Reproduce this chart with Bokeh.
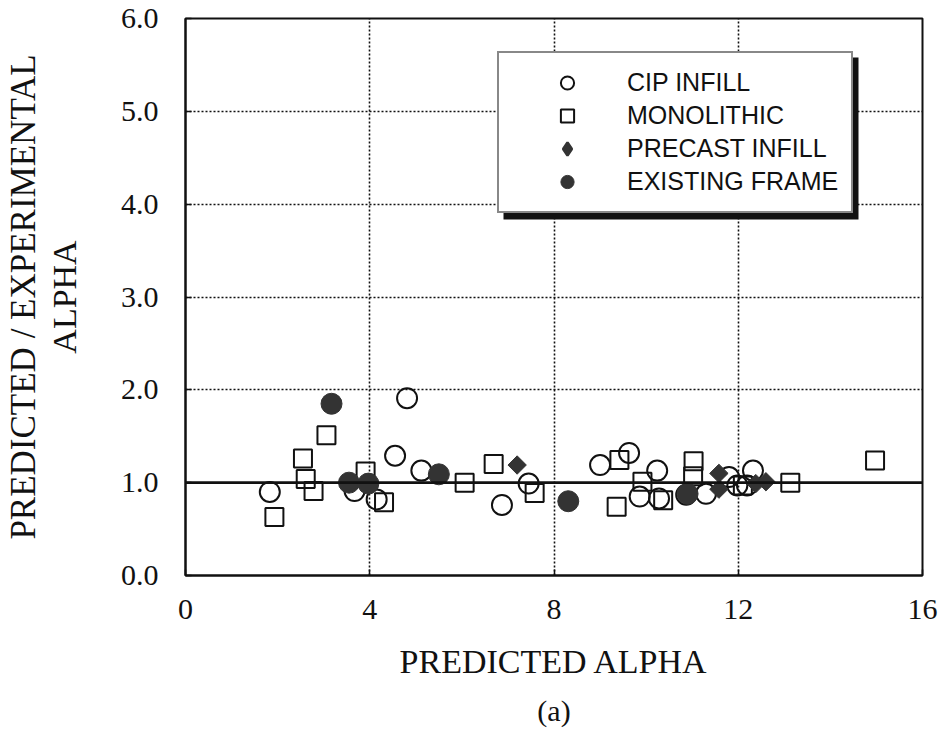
import math
from bokeh.plotting import figure
from bokeh.models import (FixedTicker, Span, Legend, LegendItem, BoxAnnotation, Title)
from bokeh.embed import file_html
from bokeh.resources import INLINE

# ---------------- data ----------------
cip_x = [1.83, 3.67, 4.15, 4.55, 4.81, 5.12, 6.87, 7.45, 9.00, 9.63, 9.86,
         10.24, 10.28, 10.87, 11.30, 11.80, 11.98, 12.19, 12.32]
cip_y = [0.90, 0.91, 0.82, 1.29, 1.91, 1.13, 0.76, 0.99, 1.19, 1.32, 0.85,
         1.13, 0.83, 0.87, 0.88, 1.06, 0.97, 0.97, 1.13]

mono_x = [1.93, 2.55, 2.61, 2.78, 3.06, 3.91, 4.31, 6.06, 6.69, 7.58, 9.36,
          9.42, 9.92, 10.37, 11.03, 11.02, 12.10, 13.13, 14.97]
mono_y = [0.63, 1.26, 1.04, 0.91, 1.51, 1.12, 0.79, 1.00, 1.20, 0.89, 0.74,
          1.245, 1.01, 0.81, 1.23, 1.07, 0.97, 1.00, 1.24]

pre_x = [7.20, 11.58, 11.58, 12.38, 12.60]
pre_y = [1.19, 1.10, 0.93, 0.99, 1.01]

exist_x = [3.17, 3.55, 3.97, 5.50, 8.31, 10.90]
exist_y = [1.85, 1.00, 0.99, 1.09, 0.80, 0.88]

x_ticks = [0, 4, 8, 12, 16]
x_tick_labels = ["0", "4", "8", "12", "16"]
y_ticks = [0, 1, 2, 3, 4, 5, 6]
y_tick_labels = ["0.0", "1.0", "2.0", "3.0", "4.0", "5.0", "6.0"]
y_grid_ticks = [2, 3, 4, 5]
ref_value = 1.0

series_names = ["CIP INFILL", "MONOLITHIC", "PRECAST INFILL", "EXISTING FRAME"]

x_title = "PREDICTED ALPHA"
y_title_1 = "PREDICTED / EXPERIMENTAL"
y_title_2 = "ALPHA"
caption = "(a)"

SERIF = "Liberation Serif"
SANS = "Liberation Sans"
INK = "#111111"
DARK = "#333333"

# ---------------- figure ----------------
p = figure(width=941, height=736, output_backend="svg", toolbar_location=None,
           x_range=(0, 16), y_range=(0, 6),
           min_border_left=185, min_border_right=19,
           min_border_top=18, min_border_bottom=161)
p.background_fill_color = "white"
p.border_fill_color = "white"
p.outline_line_color = INK
p.outline_line_width = 2

p.xaxis.ticker = FixedTicker(ticks=x_ticks)
p.xaxis.major_label_overrides = {t: l for t, l in zip(x_ticks, x_tick_labels)}
p.yaxis.ticker = FixedTicker(ticks=y_ticks)
p.yaxis.major_label_overrides = {t: l for t, l in zip(y_ticks, y_tick_labels)}

for ax in (p.xaxis, p.yaxis):
    ax.axis_line_color = INK
    ax.axis_line_width = 2
    ax.major_tick_in = 6
    ax.major_tick_out = 0
    ax.major_tick_line_color = INK
    ax.major_tick_line_width = 1.5
    ax.minor_tick_line_color = None
    ax.major_label_text_font = SERIF
    ax.major_label_text_font_size = "30px"
    ax.major_label_text_color = INK
    ax.axis_label_text_font = SERIF
    ax.axis_label_text_font_style = "normal"
    ax.axis_label_text_color = INK
p.xaxis.major_label_standoff = 24
p.yaxis.major_label_standoff = 27
p.xaxis.axis_label = x_title
p.xaxis.axis_label_text_font_size = "34px"
p.xaxis.axis_label_standoff = 21
p.yaxis.axis_label = y_title_2
p.yaxis.axis_label_text_font_size = "34px"
p.yaxis.axis_label_standoff = 35

p.xgrid.ticker = FixedTicker(ticks=x_ticks)
p.ygrid.ticker = FixedTicker(ticks=y_grid_ticks)
for g in (p.xgrid, p.ygrid):
    g.grid_line_color = INK
    g.grid_line_width = 1.6
    g.grid_line_dash = "2 2"

p.add_layout(Span(location=ref_value, dimension="width", line_color=INK, line_width=2.8))

# outer y title line and caption
p.add_layout(Title(text=y_title_1, align="center", standoff=0, offset=5,
                   text_font=SERIF, text_font_size="35px",
                   text_font_style="normal", text_color=INK), "left")
p.add_layout(Title(text=caption, align="center", standoff=19,
                   text_font=SERIF, text_font_size="30px",
                   text_font_style="normal", text_color=INK), "below")

# ---------------- markers ----------------
r_cip = p.scatter(cip_x, cip_y, marker="circle", size=20, fill_color=None,
                  line_color=INK, line_width=2)
r_mono = p.scatter(mono_x, mono_y, marker="square", size=18, fill_color=None,
                   line_color=INK, line_width=2)
# diamond glyph (sits under the rotated squares) used for the legend symbol
r_pre_key = p.scatter(pre_x, pre_y, marker="diamond", size=11,
                      fill_color=DARK, line_color=DARK, line_width=2.5)
r_pre = p.scatter(pre_x, pre_y, marker="square", angle=math.pi / 4, size=13,
                  fill_color=DARK, line_color=DARK, line_width=1)
r_ex = p.scatter(exist_x, exist_y, marker="circle", size=21,
                 fill_color=DARK, line_color=DARK, line_width=1)

# ---------------- legend with shadow ----------------
shadow = BoxAnnotation(left=318, right=673, bottom=356, top=518,
                       left_units="screen", right_units="screen",
                       bottom_units="screen", top_units="screen",
                       fill_color=INK, fill_alpha=1, line_color=None)
p.add_layout(shadow)

legend = Legend(items=[LegendItem(label=n, renderers=[r]) for n, r in
                       zip(series_names, [r_cip, r_mono, r_pre_key, r_ex])],
                location=(312, 362), orientation="vertical",
                glyph_width=110, glyph_height=33, label_height=33,
                label_standoff=5, padding=13, spacing=0, margin=0,
                label_text_font=SANS, label_text_font_size="25px",
                label_text_color=INK, label_text_baseline="middle",
                border_line_color=INK, border_line_width=2.5,
                background_fill_color="white", background_fill_alpha=1)
p.add_layout(legend)

open("out.html", "w").write(file_html(p, INLINE))
